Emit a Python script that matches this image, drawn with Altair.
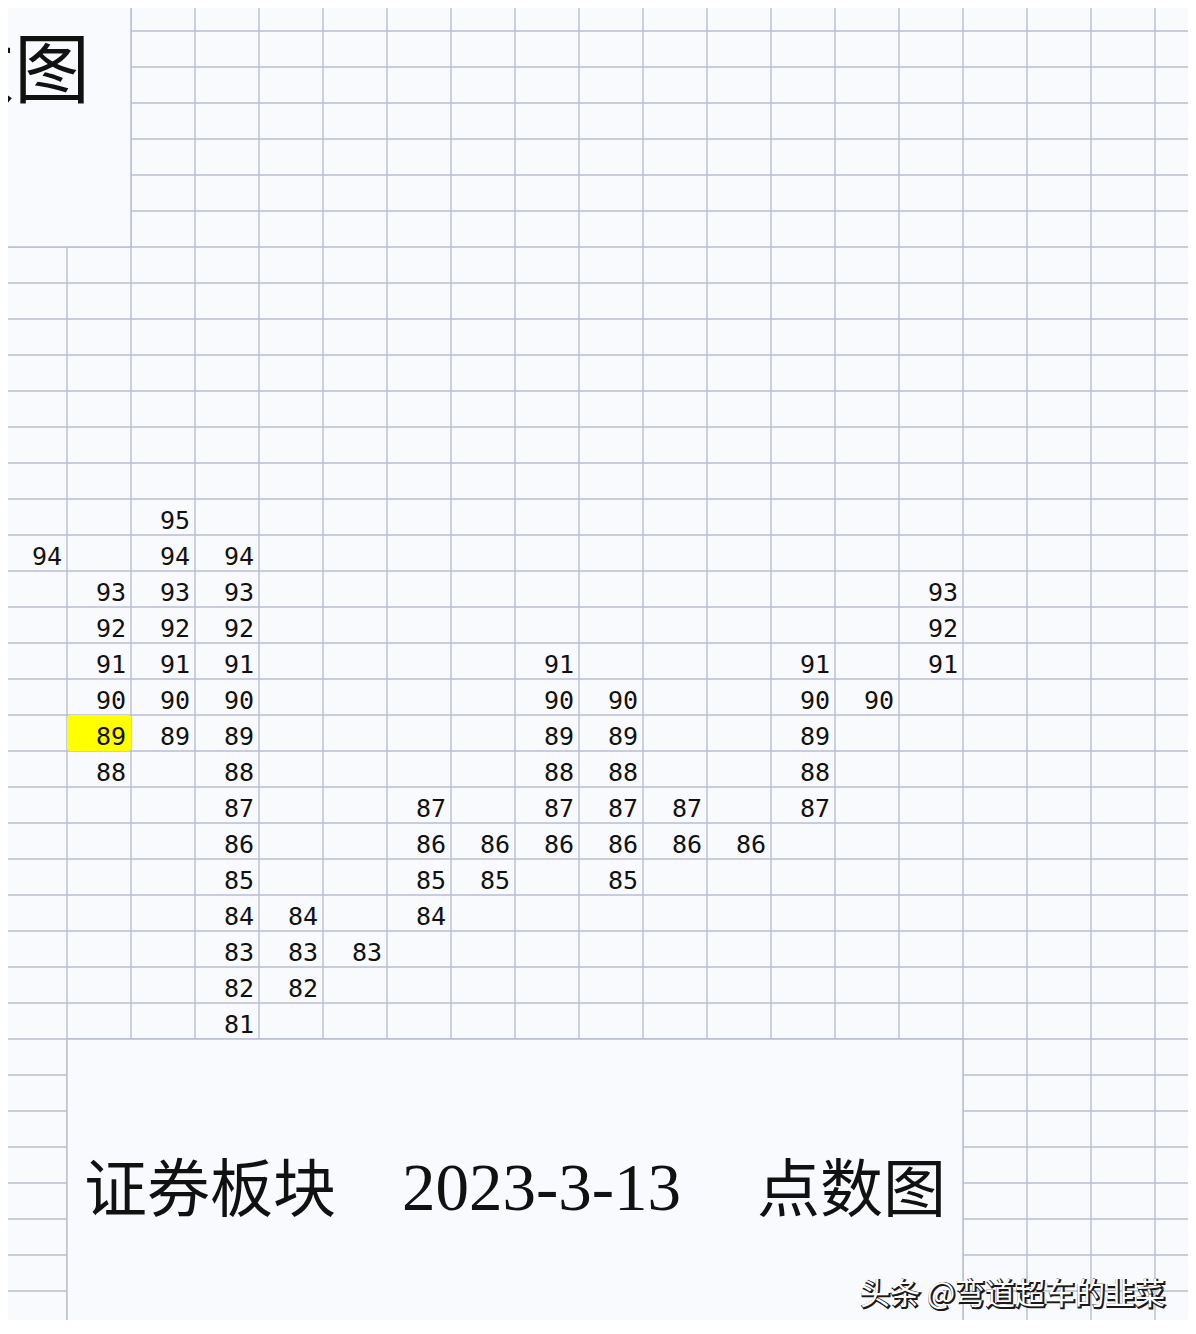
import altair as alt
import pandas as pd

# ---------------- data (read from the sheet) ----------------
# point & figure columns, values listed top to bottom
col_values = [
    [94],
    [93, 92, 91, 90, 89, 88],
    [95, 94, 93, 92, 91, 90, 89],
    [94, 93, 92, 91, 90, 89, 88, 87, 86, 85, 84, 83, 82, 81],
    [84, 83, 82],
    [83],
    [87, 86, 85, 84],
    [86, 85],
    [91, 90, 89, 88, 87, 86],
    [90, 89, 88, 87, 86, 85],
    [87, 86],
    [86],
    [91, 90, 89, 88, 87],
    [90],
    [93, 92, 91],
]
highlight_col = [1]
highlight_val = [89]

title_parts = ["证券板块", "2023-3-13", "点数图"]
corner_title = ["点数图"]
watermark_text = ["头条 @弯道超车的韭菜"]

# ---------------- layout ----------------
W, H = 1180, 1312
OFF = 8            # page margin
X0, COL_W = 3, 64  # page x of first grid line, column width
Y_TOP95, ROW_H = 499, 36  # page y of the top of row "95", row height

BG = "#f9fafd"
GRID = "#b9bdd1"
GW = 1.4


def cx(px):
    return (px - X0) / COL_W


def ry(py):
    return 95.5 - (py - Y_TOP95) / ROW_H


x_scale = alt.Scale(domain=[cx(OFF), cx(OFF + W)], nice=False, zero=False)
y_scale = alt.Scale(domain=[ry(OFF + H), ry(OFF)], nice=False, zero=False)

# grid lines
h_df = pd.DataFrame({"b": [k + 0.5 for k in range(72, 110)]})
v_df = pd.DataFrame({"c": list(range(1, 19))})

h_rules = alt.Chart(h_df).mark_rule(color=GRID, strokeWidth=GW).encode(
    y=alt.Y("b:Q", scale=y_scale, axis=None)
)
v_rules = alt.Chart(v_df).mark_rule(color=GRID, strokeWidth=GW).encode(
    x=alt.X("c:Q", scale=x_scale, axis=None)
)

# white text boxes laid over the sheet
box_df = pd.DataFrame({
    "x1": [-1, 1], "x2": [2, 15],
    "y1": [102.5, 72.5], "y2": [115, 80.5],
})
boxes = alt.Chart(box_df).mark_rect(fill=BG, stroke=GRID, strokeWidth=GW).encode(
    x=alt.X("x1:Q", scale=x_scale, axis=None), x2="x2:Q",
    y=alt.Y("y1:Q", scale=y_scale, axis=None), y2="y2:Q",
)

# highlighted cell
hl_df = pd.DataFrame({
    "x1": highlight_col, "x2": [c + 1 for c in highlight_col],
    "y1": [v - 0.5 for v in highlight_val], "y2": [v + 0.5 for v in highlight_val],
})
highlight = alt.Chart(hl_df).mark_rect(fill="#ffff00", cornerRadius=3).encode(
    x=alt.X("x1:Q", scale=x_scale, axis=None), x2="x2:Q",
    y=alt.Y("y1:Q", scale=y_scale, axis=None), y2="y2:Q",
)

# cell numbers
rows = []
for c, vals in enumerate(col_values):
    for v in vals:
        rows.append({"xr": c + 1, "v": v, "label": str(v)})
num_df = pd.DataFrame(rows)
numbers = alt.Chart(num_df).mark_text(
    align="right", baseline="alphabetic", dx=-5, dy=12,
    font="DejaVu Sans Mono", fontSize=25, color="#111111",
).encode(
    x=alt.X("xr:Q", scale=x_scale, axis=None),
    y=alt.Y("v:Q", scale=y_scale, axis=None),
    text="label:N",
)

# bottom title
cjk_df = pd.DataFrame({
    "t": [title_parts[0], title_parts[2]],
    "x": [cx(84), cx(757)],
    "y": [ry(1211), ry(1211)],
})
title_cjk = alt.Chart(cjk_df).mark_text(
    align="left", baseline="alphabetic", font="Noto Sans CJK SC",
    fontSize=63, color="#111111",
).encode(
    x=alt.X("x:Q", scale=x_scale, axis=None),
    y=alt.Y("y:Q", scale=y_scale, axis=None),
    text="t:N",
)
date_df = pd.DataFrame({"t": [title_parts[1]], "x": [cx(402)], "y": [ry(1210)]})
title_date = alt.Chart(date_df).mark_text(
    align="left", baseline="alphabetic", font="Liberation Serif",
    fontSize=67, color="#111111",
).encode(
    x=alt.X("x:Q", scale=x_scale, axis=None),
    y=alt.Y("y:Q", scale=y_scale, axis=None),
    text="t:N",
)

# top-left title (cut by the page edge)
corner_df = pd.DataFrame({"t": corner_title, "x": [cx(90)], "y": [ry(97)]})
corner = alt.Chart(corner_df).mark_text(
    align="right", baseline="alphabetic", font="Noto Sans CJK SC",
    fontSize=76, color="#111111",
).encode(
    x=alt.X("x:Q", scale=x_scale, axis=None),
    y=alt.Y("y:Q", scale=y_scale, axis=None),
    text="t:N",
)

# watermark
wm_df = pd.DataFrame({"t": watermark_text, "x": [cx(860)], "y": [ry(1304)]})
wm_shadow = alt.Chart(wm_df).mark_text(
    align="left", baseline="alphabetic", font="Noto Sans CJK SC",
    fontSize=30, fill="#1a1a1a", stroke="#1a1a1a", strokeWidth=2.2, dx=1, dy=1,
).encode(
    x=alt.X("x:Q", scale=x_scale, axis=None),
    y=alt.Y("y:Q", scale=y_scale, axis=None),
    text="t:N",
)
wm_front = alt.Chart(wm_df).mark_text(
    align="left", baseline="alphabetic", font="Noto Sans CJK SC",
    fontSize=30, fill="#ffffff",
).encode(
    x=alt.X("x:Q", scale=x_scale, axis=None),
    y=alt.Y("y:Q", scale=y_scale, axis=None),
    text="t:N",
)

chart = alt.layer(
    h_rules, v_rules, boxes, highlight, numbers,
    title_cjk, title_date, corner, wm_shadow, wm_front,
).properties(
    width=W, height=H, padding=0, autosize="none", background=BG,
).configure_view(stroke=None)

chart.save("out.html", embed_options={"renderer": "svg", "actions": False})
